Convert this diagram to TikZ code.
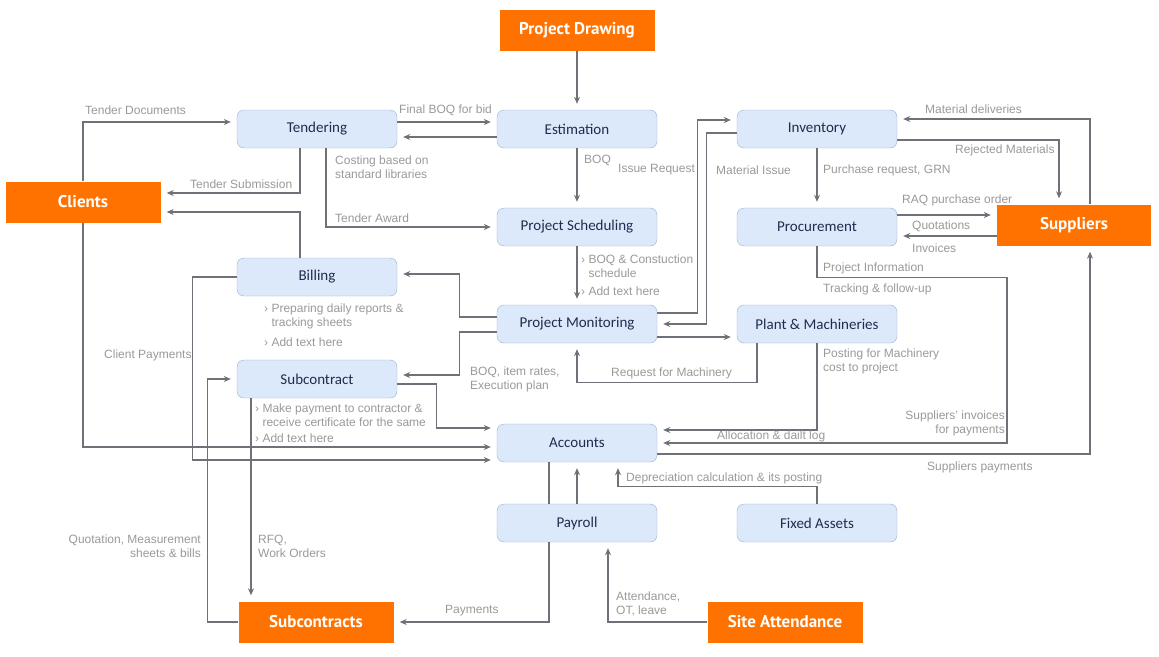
\documentclass[tikz,border=0pt]{standalone}
\usepackage{fontspec}
\setmainfont{Liberation Sans}
\newfontfamily\boxfont{Carlito}
\newfontfamily\tagfont{PT Sans}
\usetikzlibrary{arrows.meta}
\definecolor{boxfill}{HTML}{DCE9FB}
\definecolor{boxline}{HTML}{9AAFCB}
\definecolor{boxtext}{HTML}{1F2D4D}
\definecolor{tagfill}{HTML}{FF7200}
\definecolor{wire}{HTML}{6E7178}
\definecolor{note}{HTML}{999999}
\tikzset{
  box/.style={rectangle,rounded corners=7pt,draw=boxline,fill=boxfill,minimum width=160pt,minimum height=38pt,inner sep=0pt,text=boxtext,font=\boxfont\fontsize{15}{17}\selectfont},
  tag/.style={rectangle,fill=tagfill,minimum width=155pt,minimum height=41pt,inner sep=0pt,text=white,font=\tagfont\bfseries\fontsize{17}{19}\selectfont},
  arr/.style={-{Stealth[length=7pt,width=6pt]},draw=wire,line width=1.1pt,shorten >=6pt},
  ln/.style={-,draw=wire,line width=1.1pt},
  lbl/.style={text=note,inner sep=0pt,font=\fontsize{12}{14}\selectfont,align=left}
}
\begin{document}
\begin{tikzpicture}[x=1pt,y=-1pt]
\useasboundingbox (0,0) rectangle (1159,656);
\node (drawing) [tag] at (577,30) {Project Drawing};
\node (clients) [tag] at (83,202) {Clients};
\node (suppliers) [tag,minimum width=154pt] at (1074,225) {Suppliers};
\node (subcons) [tag] at (316,622) {Subcontracts};
\node (attend) [tag] at (785,622) {Site Attendance};
%
\node (tender) [box] at (317,129) {Tendering};
\node (estim) [box] at (577,129) {Estimation};
\node (invent) [box] at (817,129) {Inventory};
\node (sched) [box] at (577,227) {Project Scheduling};
\node (procure) [box] at (817,227) {Procurement};
\node (billing) [box] at (317,277) {Billing};
\node (monitor) [box] at (577,324) {Project Monitoring};
\node (plant) [box] at (817,324) {Plant \& Machineries};
\node (subcon) [box] at (317,379) {Subcontract};
\node (accounts) [box] at (577,443) {Accounts};
\node (payroll) [box] at (577,523) {Payroll};
\node (assets) [box] at (817,523) {Fixed Assets};
%
\draw[arr] (drawing.south) -- (estim.north);
\draw[arr] (clients.north) |- ([yshift=7pt]tender.west);
\draw[arr] ([yshift=7pt]tender.east) -- ([yshift=7pt]estim.west);
\draw[arr] ([yshift=-8pt]estim.west) -- ([yshift=-8pt]tender.east);
\draw[arr] ([xshift=-17pt]tender.south) |- ([yshift=9pt]clients.east);
\draw[arr] ([xshift=9pt]tender.south) |- (sched.west);
\draw[arr] ([xshift=-17pt]billing.north) |- ([yshift=-10pt]clients.east);
\draw[arr] (clients.south) |- ([yshift=-4pt]accounts.west);
\draw[arr] (billing.west) -- ++(-44,0) |- ([yshift=-17pt]accounts.west);
\draw[arr] (estim.south) -- (sched.north);
\draw[arr] (sched.south) -- (monitor.north);
\draw[arr] ([yshift=7pt]monitor.west) -- ++(-37,0) |- ([yshift=3pt]billing.east);
\draw[arr] ([yshift=-8pt]monitor.west) -- ++(-37,0) |- ([yshift=4pt]subcon.east);
\draw[arr] ([yshift=-5pt]subcon.east) -- ++(39,0) |- ([yshift=15pt]accounts.west);
\draw[arr] ([yshift=11pt]monitor.east) -- ++(40,0) |- ([yshift=9pt]invent.west);
\draw[arr] ([yshift=-4pt]invent.west) -- ++(-30,0) |- (monitor.east);
\draw[arr] ([yshift=-13pt]monitor.east) -- ([yshift=-13pt]plant.west);
\draw[arr] ([xshift=-60pt]plant.south) -- ++(0,39) -| (monitor.south);
\draw[arr] (invent.south) -- (procure.north);
\draw[arr] ([xshift=16pt]suppliers.north) |- ([yshift=10pt]invent.east);
\draw[arr] ([yshift=-11pt]invent.east) -| ([xshift=-15pt]suppliers.north);
\draw[arr] ([yshift=12pt]procure.east) -- ([yshift=12pt]procure.east -| suppliers.west);
\draw[arr] ([yshift=-9pt]procure.east -| suppliers.west) -- ([yshift=-9pt]procure.east);
\draw[arr] (procure.south) -- ++(0,31) -- ++(190,0) |- (accounts.east);
\draw[arr] (plant.south) |- ([yshift=13pt]accounts.east);
\draw[arr] ([yshift=-11pt]accounts.east) -| ([xshift=16pt]suppliers.south);
\draw[ln] ([xshift=-28pt]accounts.south) -- ([xshift=-28pt]payroll.north);
\draw[arr] ([xshift=-28pt]payroll.south) |- (subcons.east);
\draw[arr] (payroll.north) -- (accounts.south);
\draw[arr] (assets.north) -- ++(0,-17) -| ([xshift=41pt]accounts.south);
\draw[arr] (attend.west) -| ([xshift=31pt]payroll.south);
\draw[arr] (subcons.west) -- ++(-31,0) |- (subcon.west);
\draw[arr] ([xshift=-66pt]subcon.south) -- ([xshift=-66pt]subcon.south |- subcons.north);
%
\node (l1) [lbl,anchor=west] at (85,110) {Tender Documents};
\node (l2) [lbl,anchor=west] at (399,110) {Final BOQ for bid};
\node (l3) [lbl,anchor=west] at (335,167) {Costing based on\\standard libraries};
\node (l4) [lbl,anchor=west] at (190,184) {Tender Submission};
\node (l5) [lbl,anchor=west] at (335,218) {Tender Award};
\node (l6) [lbl,anchor=west] at (104,355) {Client Payments};
\node (l7) [lbl,anchor=west] at (584,160) {BOQ};
\node (l8) [lbl,anchor=west] at (618,170) {Issue Request};
\node (l9) [lbl,anchor=west] at (716,170) {Material Issue};
\node (l10) [lbl,anchor=west] at (823,170) {Purchase request, GRN};
\node (l11) [lbl,anchor=west] at (925,109) {Material deliveries};
\node (l12) [lbl,anchor=west] at (955,150) {Rejected Materials};
\node (l13) [lbl,anchor=west] at (902,200) {RAQ purchase order};
\node (l14) [lbl,anchor=west] at (912,226) {Quotations};
\node (l15) [lbl,anchor=west] at (912,248) {Invoices};
\node (l16) [lbl,anchor=west] at (823,268) {Project Information};
\node (l17) [lbl,anchor=west] at (823,289) {Tracking \& follow-up};
\node (l18) [lbl,anchor=west] at (581,266) {› BOQ \& Constuction\\\phantom{› }schedule};
\node (l19) [lbl,anchor=west] at (581,291) {› Add text here};
\node (l20) [lbl,anchor=west] at (264,316) {› Preparing daily reports \&\\\phantom{› }tracking sheets};
\node (l21) [lbl,anchor=west] at (264,342) {› Add text here};
\node (l22) [lbl,anchor=west] at (470,379) {BOQ, item rates,\\Execution plan};
\node (l23) [lbl,anchor=west] at (611,373) {Request for Machinery};
\node (l24) [lbl,anchor=west] at (823,361) {Posting for Machinery\\cost to project};
\node (l25) [lbl,anchor=west] at (255,415) {› Make payment to contractor \&\\\phantom{› }receive certificate for the same};
\node (l26) [lbl,anchor=west] at (255,438) {› Add text here};
\node (l27) [lbl,anchor=east,align=right] at (1005,423) {Suppliers' invoices\\for payments};
\node (l28) [lbl,anchor=west] at (717,436) {Allocation \& dailt log};
\node (l29) [lbl,anchor=west] at (927,467) {Suppliers payments};
\node (l30) [lbl,anchor=west] at (626,478) {Depreciation calculation \& its posting};
\node (l31) [lbl,anchor=east,align=right] at (201,546) {Quotation, Measurement\\sheets \& bills};
\node (l32) [lbl,anchor=west] at (258,546) {RFQ,\\Work Orders};
\node (l33) [lbl,anchor=west] at (445,611) {Payments};
\node (l34) [lbl,anchor=west] at (616,604) {Attendance,\\OT, leave};
\end{tikzpicture}
\end{document}
